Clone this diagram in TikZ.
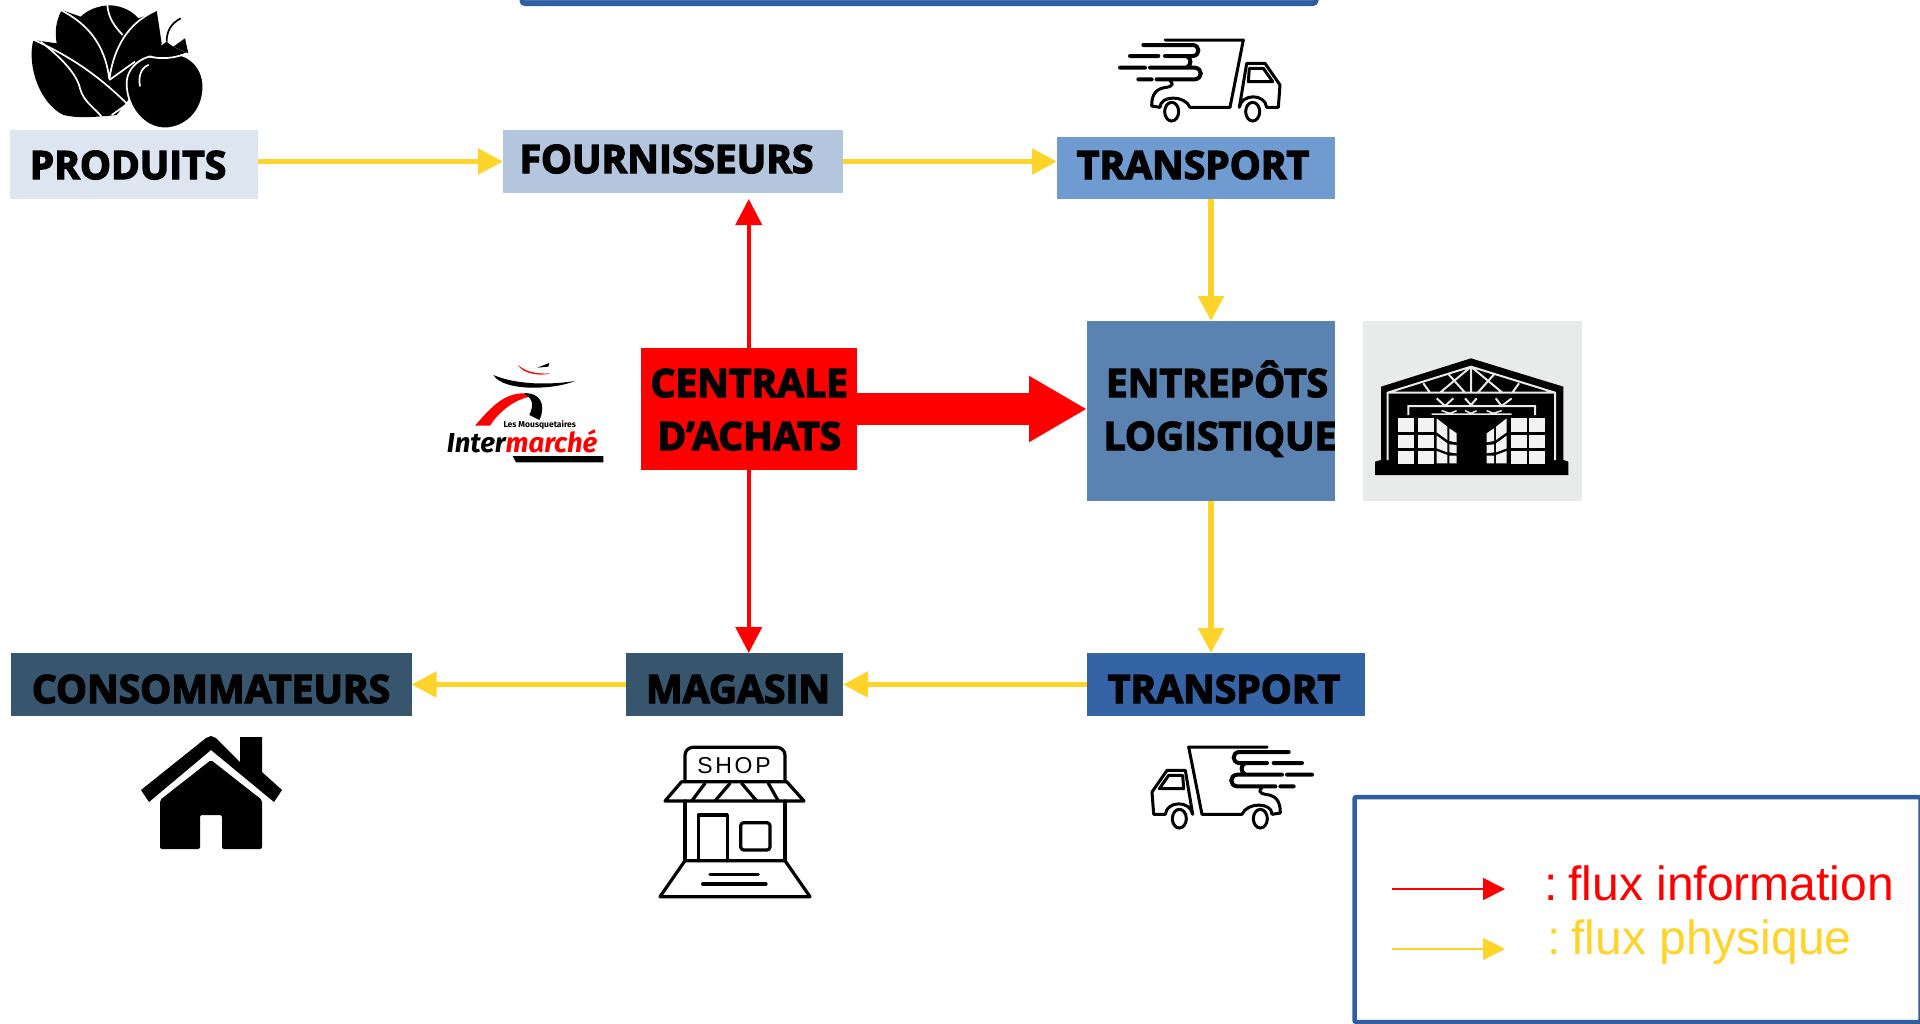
\documentclass[tikz,border=0pt]{standalone}
\usepackage{fontspec}
\usetikzlibrary{positioning,arrows.meta}
\setmainfont{Liberation Sans}
\newfontfamily\boxfont{Open Sans}[BoldFeatures={FakeBold=3.5}]
\newfontfamily\logofont{Fira Sans}
\definecolor{flowyellow}{HTML}{FFD42A}
\definecolor{flowred}{HTML}{FF0000}
\definecolor{frameblue}{HTML}{2F5F9E}
\definecolor{barblue}{HTML}{4472C4}
\definecolor{prodblue}{HTML}{DCE5F0}
\definecolor{fourblue}{HTML}{B3C6DE}
\definecolor{transblue}{HTML}{6F9BD0}
\definecolor{entrblue}{HTML}{5A83B2}
\definecolor{darkblue}{HTML}{3564A6}
\definecolor{slateblue}{HTML}{38556E}
\definecolor{housegrey}{HTML}{E9EBEB}
\newcommand{\boxtxt}[3]{\smash{\raisebox{#2}{\makebox[0pt]{\hspace*{#1}\hspace*{#1}#3}}}}
\tikzset{
  truck/.pic={
    \draw[line width=3pt,line cap=round,line join=round]
      (165,30) -- (400,30) -- (360,232) -- (240,232) .. controls (225,195) and (150,195) .. (150,232) -- (125,228)
      .. controls (125,190) and (140,175) .. (170,172) .. controls (190,168) and (190,160) .. (180,152)
      (410,100) -- (465,100) -- (510,165) -- (505,232) -- (470,232) .. controls (465,190) and (395,190) .. (388,232)
      (410,100) -- (388,232);
    \draw[line width=4pt,line cap=round]
      (100,45) -- (250,45) .. controls (270,48) and (270,75) .. (250,78) -- (165,78)
      (60,78) -- (145,78)
      (30,113) -- (105,113)
      (120,113) -- (255,113) .. controls (278,116) and (278,145) .. (255,148) -- (140,148)
      (85,148) -- (125,148)
      (230,78) .. controls (245,85) and (245,105) .. (230,113);
    \draw[line width=3pt,line join=round] (418,115) -- (460,115) -- (488,155) -- (415,155) -- cycle;
    \draw[line width=3pt] (185,245) ellipse (21 and 28) (428,245) ellipse (21 and 28);
  },
  flowbox/.style={inner sep=0pt, outer sep=0pt, text=black, align=center,
    font=\boxfont\bfseries\fontsize{39}{53}\selectfont},
  physflow/.style={draw=flowyellow, line width=5.5pt,
    -{Triangle[length=25pt,width=25pt]}, flowyellow},
  infoflow/.style={draw=flowred, line width=4pt,
    -{Triangle[length=26pt,width=26pt]}, flowred},
  legendtxt/.style={font=\fontsize{48}{48}\selectfont, anchor=base west, inner sep=0pt}
}
\begin{document}
\begin{tikzpicture}[x=1pt, y=-1pt]
  \useasboundingbox (0,0) rectangle (1920,1023);
  \clip (0,0) rectangle (1920,1023);

  % top bar and legend frame
  \node[draw=frameblue, fill=barblue, line width=5pt, rounded corners=3pt, minimum width=794pt, minimum height=40pt]
    (titlebar) at (919,-16.5) {};
  \node[draw=frameblue, fill=white, line width=4.5pt, rounded corners=2pt, minimum width=566pt, minimum height=225pt, inner sep=0pt]
    (legendbox) at (1637.5,909.5) {};

  % the boxes
  \node[flowbox, fill=prodblue, minimum width=248pt, minimum height=69pt] (produits) at (134,164.5)
    {\boxtxt{-6pt}{-14.5pt}{PRODUITS}};
  \node[flowbox, fill=fourblue, minimum width=340pt, minimum height=63pt, right=245pt of produits, yshift=3pt] (fournisseurs)
    {\boxtxt{-6.5pt}{-11.5pt}{FOURNISSEURS}};
  \node[flowbox, fill=transblue, minimum width=278pt, minimum height=62pt, right=214pt of fournisseurs, yshift=-6.5pt] (transport1)
    {\boxtxt{-3pt}{-11pt}{TRANSPORT}};
  \node[flowbox, fill=entrblue, minimum width=248pt, minimum height=180pt, below=122pt of transport1, xshift=15pt] (entrepots)
    {\boxtxt{6pt}{-12.5pt}{ENTREPÔTS}\\\boxtxt{9pt}{-12.5pt}{LOGISTIQUE}};
  \node[flowbox, fill=flowred, minimum width=216.5pt, minimum height=122pt, left=230pt of entrepots, yshift=2pt] (centrale)
    {\boxtxt{0.5pt}{-14.5pt}{CENTRALE}\\\boxtxt{0.5pt}{-14.5pt}{D’ACHATS}};
  \node[flowbox, fill=darkblue, minimum width=278pt, minimum height=63pt, below=152pt of entrepots, xshift=15pt] (transport2)
    {\boxtxt{-2pt}{-18.5pt}{TRANSPORT}};
  \node[flowbox, fill=slateblue, minimum width=217pt, minimum height=63pt, left=244pt of transport2] (magasin)
    {\boxtxt{3.5pt}{-18.5pt}{MAGASIN}};
  \node[flowbox, fill=slateblue, minimum width=401pt, minimum height=63pt, left=214.5pt of magasin] (consommateurs)
    {\boxtxt{0pt}{-18.5pt}{CONSOMMATEURS}};
  \node[fill=housegrey, inner sep=0pt, minimum width=219pt, minimum height=180pt, right=28pt of entrepots] (housebox) {};

  % connect the nodes
  \draw[physflow] (produits.east |- fournisseurs) -- (fournisseurs.west);
  \draw[physflow] (fournisseurs.east) -- (transport1.west |- fournisseurs);
  \draw[physflow] (entrepots.north |- transport1.south) -- (entrepots.north);
  \draw[physflow] (entrepots.south) -- (entrepots.south |- transport2.north);
  \draw[physflow] (transport2.west) -- (magasin.east);
  \draw[physflow] (magasin.west) -- (consommateurs.east);
  \draw[infoflow, shorten >=6pt] (centrale.north) -- (centrale.north |- fournisseurs.south);
  \draw[infoflow] (centrale.south) -- (centrale.south |- magasin.north);
  \draw[draw=flowred, line width=32pt, -{Triangle[length=58pt,width=62pt]}, flowred] (centrale.east) -- (entrepots.west |- centrale);

  % legend
  \coordinate (infostart) at (1392,889);
  \coordinate (infoend) at (1505,889);
  \coordinate (physstart) at (1392,949);
  \coordinate (physend) at (1505,949);
  \draw[draw=flowred, line width=1.5pt, -{Triangle[length=22pt,width=22pt]}, flowred] (infostart) -- (infoend);
  \draw[draw=flowyellow, line width=1.5pt, -{Triangle[length=22pt,width=22pt]}, flowyellow] (physstart) -- (physend);
  \node[legendtxt, text=flowred] (infotxt) at (1544,900) {:\hspace{11pt}flux information};
  \node[legendtxt, text=flowyellow] (phystxt) at (1547,954) {:\hspace{11pt}flux physique};

  % produce icon
  \begin{scope}[shift={(20,0)}, scale=1/3]
    \fill (40,120) .. controls (20,200) and (60,310) .. (130,345) .. controls (170,355) and (220,352) .. (290,345)
      -- (400,200) -- (425,130) -- (410,30) .. controls (390,40) and (370,50) .. (355,55)
      .. controls (330,25) and (290,15) .. (265,16) .. controls (235,18) and (205,28) .. (182,50)
      -- (125,30) .. controls (105,70) and (105,100) .. (110,130) -- cycle;
    \draw[white, line width=1.7pt]
      (262,15) .. controls (265,55) and (285,80) .. (308,105)
      (122,30) .. controls (200,70) and (255,130) .. (268,238)
      (415,28) .. controls (340,60) and (285,120) .. (268,238)
      (38,118) .. controls (130,160) and (220,210) .. (330,320)
      (62,125) .. controls (120,170) and (170,220) .. (180,265) .. controls (190,305) and (225,325) .. (245,350)
      (268,240) -- (345,185)
      (325,310) -- (275,345);
    \fill[black] (495,115) -- (505,160) -- (460,140) -- cycle;
    \draw[line width=1.7pt] (440,125) .. controls (440,90) and (455,70) .. (482,55);
    \filldraw[fill=black, draw=white, line width=1.7pt] (435,165) .. controls (490,150) and (550,190) .. (550,260)
      .. controls (550,340) and (490,385) .. (435,385) .. controls (370,385) and (320,320) .. (320,250)
      .. controls (320,200) and (370,160) .. (435,165) -- cycle;
    \fill (385,165) .. controls (410,150) and (430,130) .. (440,125) .. controls (455,140) and (480,150) .. (500,158)
      .. controls (470,170) and (420,175) .. (385,165) -- cycle;
    \draw[white, line width=1.7pt] (388,170) .. controls (425,178) and (465,175) .. (500,160);
    \draw[white, line width=1.7pt, line cap=round] (385,195) .. controls (360,205) and (355,235) .. (360,258);
  \end{scope}

  % trucks
  \pic[scale=1/3] at (1110,30) {truck};
  \pic[xscale=-1/3, yscale=1/3] at (1322,737) {truck};

  % warehouse icon
  \begin{scope}[shift={(1365,345)}, scale=1/3]
    \fill (318,40) -- (595,125) -- (595,345) -- (610,350) -- (610,390) -- (30,390) -- (30,350) -- (48,345) -- (48,125) -- cycle;
    \draw[housegrey, line width=2pt]
      (68,345) -- (68,143) -- (318,65) -- (570,143) -- (570,345) (68,143) -- (570,143)
      (318,65) -- (318,143) (318,65) -- (225,143) (318,65) -- (412,143)
      (248,85) -- (300,143) (390,85) -- (338,143) (175,115) -- (195,143) (462,115) -- (442,143)
      (130,210) -- (130,183) -- (510,183) -- (510,210)
      (215,160) -- (240,183) -- (265,160) (300,160) -- (318,180) -- (335,160) (392,160) -- (410,183) -- (440,160);
    \draw[housegrey, line width=1.5pt] (200,207) -- (440,207) (230,197) -- (255,205) -- (275,197) (300,197) -- (318,205) -- (335,197) (365,197) -- (385,205) -- (410,197);
    \foreach \colx in {100,158,437,492}
      \foreach \rowy in {220,270,318}
        \fill[white!95!black] (\colx,\rowy) rectangle ++(48,40);
    \foreach \sign/\basex in {1/0,-1/640}{
      \begin{scope}[shift={(\basex,0)}, xscale=\sign]
        \fill[white!95!black] (215,220) -- (247,245) -- (247,285) -- (215,262) -- cycle
          (215,272) -- (247,295) -- (247,322) -- (215,310) -- cycle
          (215,318) -- (247,330) -- (247,355) -- (215,355) -- cycle
          (253,250) -- (275,265) -- (275,292) -- (253,288) -- cycle
          (253,298) -- (275,300) -- (275,325) -- (253,322) -- cycle
          (253,332) -- (275,332) -- (275,355) -- (253,355) -- cycle;
      \end{scope}}
  \end{scope}

  % Intermarche logo
  \begin{scope}[shift={(440,355)}, scale=1/3]
    \fill (160,60) .. controls (190,110) and (340,105) .. (405,78) .. controls (330,90) and (230,90) .. (160,60) -- cycle;
    \fill[flowred] (235,30) .. controls (245,55) and (300,65) .. (330,55) .. controls (290,58) and (255,50) .. (235,30) -- cycle;
    \fill (292,38) -- (328,24) -- (325,35) -- cycle;
    \fill[flowred] (105,212) .. controls (150,160) and (190,115) .. (250,115) -- (270,125)
      .. controls (215,135) and (170,180) .. (150,212) -- cycle;
    \fill (250,115) .. controls (300,110) and (320,150) .. (298,195) -- (268,180) .. controls (282,150) and (280,130) .. (250,115) -- cycle;
    \node[inner sep=0pt, anchor=base west] (mousquetaires) at (190,218)
      {\logofont\bfseries\fontsize{8.5}{8.5}\selectfont Les Mousquetaires};
    \node[inner sep=0pt, anchor=base west] (intermarche) at (20,292)
      {\logofont\bfseries\itshape\fontsize{27.5}{27.5}\selectfont Inter\textcolor{flowred}{marché}};
    \fill (218,303) -- (490,303) -- (490,322) -- (228,322) -- cycle;
  \end{scope}

  % house icon
  \fill[line join=round] (141,790) -- (206,738) -- (211,736) -- (216,738) -- (240,762) -- (240,737) -- (262,737) -- (262,772) -- (282,790) -- (274,802) -- (211,750) -- (149,802) -- cycle;
  \fill[rounded corners=2pt] (211,760) -- (262,800) -- (262,849) -- (222,849) -- (222,815) -- (200,815) -- (200,849) -- (160,849) -- (160,800) -- cycle;

  % shop icon
  \begin{scope}[shift={(650,740)}, scale=1/3, line width=3.2pt, line join=round, line cap=round]
    \draw[rounded corners=8pt] (105,125) -- (105,22) -- (405,22) -- (405,125);
    \draw (95,125) -- (410,125) -- (462,183) -- (45,183) -- cycle;
    \draw (165,130) -- (125,183) (240,130) -- (195,183) (275,130) -- (320,183) (355,130) -- (385,183);
    \draw (105,183) -- (105,362) (405,183) -- (405,362);
    \draw (145,362) -- (145,225) -- (232,225) -- (232,362);
    \draw[rounded corners=3pt] (272,248) rectangle (360,330);
    \draw (105,362) -- (405,362) -- (480,470) -- (30,470) -- cycle;
    \draw (180,403) -- (325,403) (158,432) -- (348,432);
    \node[inner sep=0pt] (shoptxt) at (252,76) {\addfontfeature{LetterSpace=12}\fontsize{23}{23}\selectfont SHOP};
  \end{scope}
\end{tikzpicture}
\end{document}
